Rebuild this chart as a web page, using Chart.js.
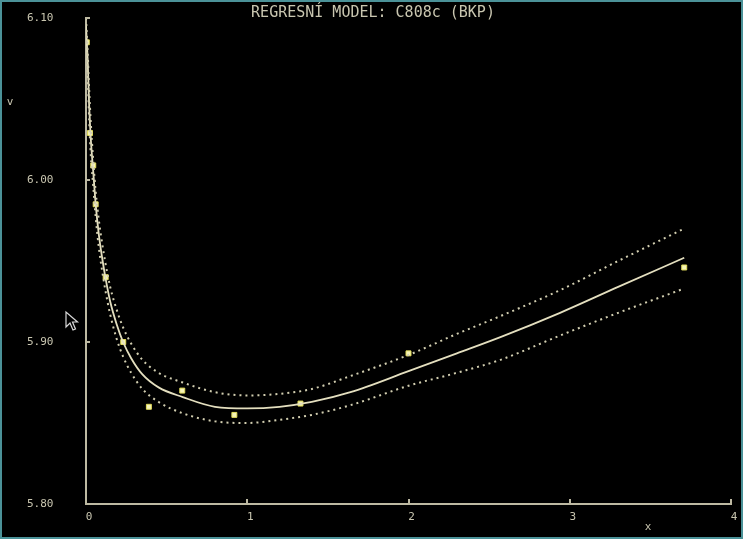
<!DOCTYPE html>
<html>
<head>
<meta charset="utf-8">
<title>REGRESNÍ MODEL: C808c (BKP)</title>
<script src="https://cdn.jsdelivr.net/npm/chart.js@4/dist/chart.umd.min.js"></script>
<style>
  html, body { margin: 0; padding: 0; background: #000; }
  #wrap { width: 743px; height: 539px; position: relative; }
</style>
</head>
<body>
<div id="wrap"><canvas id="c" width="743" height="539"></canvas></div>
<script>
// Measured samples
const sampleX = [0.005, 0.025, 0.045, 0.06, 0.122, 0.231, 0.39, 0.597, 0.92, 1.33, 2.0, 3.71];
const sampleV = [6.085, 6.029, 6.009, 5.985, 5.940, 5.900, 5.860, 5.870, 5.855, 5.862, 5.893, 5.946];

// Fitted regression curve and its confidence band
const fitX   = [0.000, 0.010, 0.020, 0.030, 0.045, 0.060, 0.080, 0.100, 0.120, 0.150, 0.190, 0.230, 0.280, 0.350, 0.450, 0.600, 0.800, 1.000, 1.200, 1.400, 1.640, 2.000, 2.300, 2.570, 2.940, 3.300, 3.710];
const fitV   = [6.095, 6.075, 6.045, 6.025, 6.005, 5.985, 5.966, 5.952, 5.940, 5.925, 5.911, 5.900, 5.890, 5.880, 5.872, 5.866, 5.860, 5.859, 5.860, 5.863, 5.869, 5.882, 5.893, 5.903, 5.918, 5.934, 5.952];
const upperV = [6.100, 6.080, 6.055, 6.035, 6.012, 5.993, 5.975, 5.961, 5.949, 5.934, 5.920, 5.909, 5.899, 5.889, 5.881, 5.875, 5.869, 5.867, 5.868, 5.871, 5.879, 5.892, 5.905, 5.916, 5.932, 5.950, 5.970];
const lowerV = [6.090, 6.068, 6.036, 6.015, 5.996, 5.977, 5.958, 5.944, 5.932, 5.917, 5.902, 5.891, 5.881, 5.871, 5.863, 5.856, 5.851, 5.850, 5.852, 5.855, 5.861, 5.873, 5.881, 5.889, 5.904, 5.918, 5.933];

// Axis ticks
const xTicks = [0, 1, 2, 3, 4];
const yTicks = [5.80, 5.90, 6.00, 6.10];

const titleText = 'REGRESNÍ MODEL: C808c (BKP)';
const xAxisName = 'x';
const yAxisName = 'v';

const MONO = '"DejaVu Sans Mono", "Liberation Mono", monospace';
const TEXT = '#c9c6b0';
const AXIS = '#bdb9a2';

const pts = (xs, ys) => xs.map((x, i) => ({ x: x, y: ys[i] }));

// Inward tick marks, axis names, title, frame and the mouse pointer
const decor = {
  id: 'decor',
  afterDatasetsDraw(chart) {
    const ctx = chart.ctx;
    const xs = chart.scales.x, ys = chart.scales.y;
    const area = chart.chartArea;
    ctx.save();
    ctx.strokeStyle = AXIS;
    ctx.lineWidth = 2;
    xTicks.forEach(v => {
      const px = Math.round(xs.getPixelForValue(v));
      if (v === 0) return;
      ctx.beginPath();
      ctx.moveTo(px, area.bottom);
      ctx.lineTo(px, area.bottom - 5);
      ctx.stroke();
    });
    yTicks.forEach(v => {
      const py = Math.round(ys.getPixelForValue(v));
      if (v === yTicks[0]) return;
      ctx.beginPath();
      ctx.moveTo(area.left, py);
      ctx.lineTo(area.left + 4, py);
      ctx.stroke();
    });

    ctx.fillStyle = TEXT;
    ctx.font = '15px ' + MONO;
    ctx.textAlign = 'center';
    ctx.textBaseline = 'middle';
    ctx.fillText(titleText, 373, 13);

    ctx.font = '11px ' + MONO;
    ctx.fillText(yAxisName, 10, 102);
    ctx.fillText(xAxisName, 648, 527);

    // pointer arrow
    ctx.translate(66, 312);
    ctx.beginPath();
    ctx.moveTo(0, 0);
    ctx.lineTo(0, 15);
    ctx.lineTo(4, 11);
    ctx.lineTo(7, 18);
    ctx.lineTo(9.5, 17);
    ctx.lineTo(6.5, 10);
    ctx.lineTo(11.5, 10);
    ctx.closePath();
    ctx.fillStyle = '#000';
    ctx.fill();
    ctx.strokeStyle = '#d8d8d8';
    ctx.lineWidth = 1.2;
    ctx.stroke();
    ctx.setTransform(1, 0, 0, 1, 0, 0);

    // frame
    ctx.strokeStyle = '#4b9298';
    ctx.lineWidth = 2;
    ctx.strokeRect(1, 1, chart.width - 2, chart.height - 2);
    ctx.restore();
  }
};

const bg = {
  id: 'bg',
  beforeDraw(chart) {
    const ctx = chart.ctx;
    ctx.save();
    ctx.fillStyle = '#000';
    ctx.fillRect(0, 0, chart.width, chart.height);
    ctx.restore();
  }
};

new Chart(document.getElementById('c'), {
  type: 'scatter',
  data: {
    datasets: [
      {
        label: 'horní mez',
        data: pts(fitX, upperV),
        showLine: true,
        borderColor: '#d2ceb0',
        borderWidth: 2,
        borderDash: [2, 4],
        cubicInterpolationMode: 'monotone',
        pointRadius: 0
      },
      {
        label: 'dolní mez',
        data: pts(fitX, lowerV),
        showLine: true,
        borderColor: '#d2ceb0',
        borderWidth: 2,
        borderDash: [2, 4],
        cubicInterpolationMode: 'monotone',
        pointRadius: 0
      },
      {
        label: 'model',
        data: pts(fitX, fitV),
        showLine: true,
        borderColor: '#e4dfbf',
        borderWidth: 1.8,
        cubicInterpolationMode: 'monotone',
        pointRadius: 0
      },
      {
        label: 'měření',
        data: pts(sampleX, sampleV),
        showLine: false,
        pointStyle: 'rect',
        pointRadius: 3.5,
        pointBackgroundColor: '#f6f4b8',
        pointBorderColor: '#e2dc5a',
        pointBorderWidth: 1
      }
    ]
  },
  options: {
    responsive: false,
    animation: false,
    layout: { padding: { left: 27, top: 18, right: 12, bottom: 0 } },
    plugins: {
      legend: { display: false },
      title: { display: false },
      tooltip: { enabled: false }
    },
    scales: {
      x: {
        type: 'linear',
        min: xTicks[0],
        max: xTicks[xTicks.length - 1],
        afterBuildTicks: s => { s.ticks = xTicks.map(v => ({ value: v })); },
        afterFit: s => { s.height = 35; },
        grid: { display: false, drawTicks: false },
        border: { display: true, color: AXIS, width: 2 },
        ticks: {
          color: TEXT,
          padding: 7,
          labelOffset: 3,
          font: { family: MONO, size: 11 },
          callback: v => String(v)
        }
      },
      y: {
        type: 'linear',
        min: yTicks[0],
        max: yTicks[yTicks.length - 1],
        afterBuildTicks: s => { s.ticks = yTicks.map(v => ({ value: v })); },
        afterFit: s => { s.width = 59; },
        grid: { display: false, drawTicks: false },
        border: { display: true, color: AXIS, width: 2 },
        ticks: {
          color: TEXT,
          padding: 0,
          crossAlign: 'far',
          font: { family: MONO, size: 11 },
          callback: v => Number(v).toFixed(2)
        }
      }
    }
  },
  plugins: [bg, decor]
});
</script>
</body>
</html>
